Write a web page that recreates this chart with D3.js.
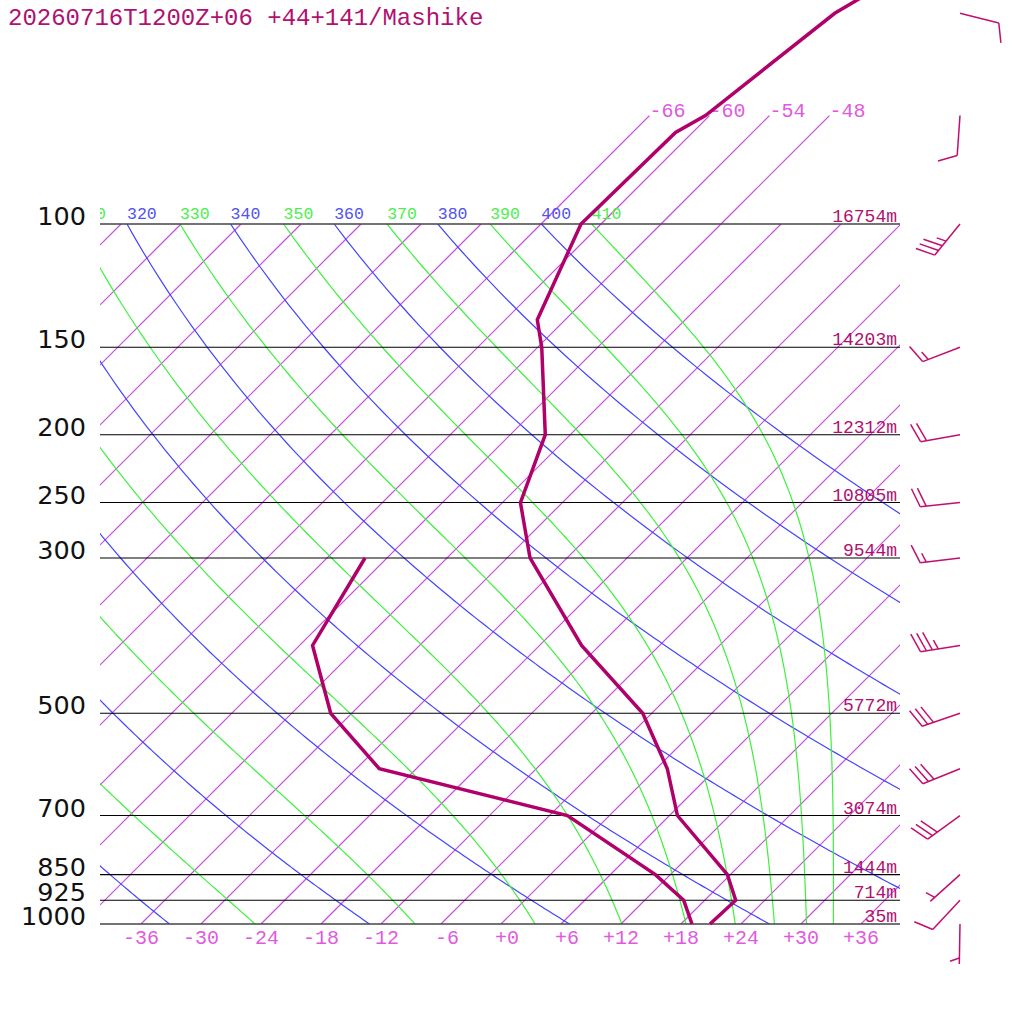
<!DOCTYPE html>
<html>
<head>
<meta charset="utf-8">
<script src="https://cdn.jsdelivr.net/npm/d3@7"></script>
<style>
	html, body { margin: 0; padding: 0; background: #fff; }
	svg { display: block; }
	text { font-family: "Liberation Mono", "DejaVu Sans Mono", monospace; }
</style>
</head>
<body>
<div id="chart"></div>
<script>
// Station header
var title = '20260716T1200Z+06 +44+141/Mashike';

// Temperature profile (hPa, degC)
var tempLevels = [1000, 925, 850, 700, 600, 500, 400, 300, 250, 200, 150, 137, 100, 74, 70, 50, 30];
var tempValues = [20.9, 21.1, 17.7, 6.8, 1.1, -6.9, -19.8, -33.7, -40.2, -44.5, -53.6, -56.8, -62.0, -61.7, -60.4, -57.7, -47.0];

// Dew point profile (hPa, degC)
var dewLevels = [1000, 925, 850, 700, 600, 500, 400, 300];
var dewValues = [19.1, 15.9, 10.5, -4.2, -27.7, -38.1, -46.7, -50.2];

// Isobars with their geopotential heights
var isobars = [1000, 925, 850, 700, 500, 300, 250, 200, 150, 100];
var heights = [35, 714, 1444, 3074, 5772, 9544, 10805, 12312, 14203, 16754];

// Background lines
var isotherms = [-108, -102, -96, -90, -84, -78, -72, -66, -60, -54, -48, -42, -36, -30, -24, -18, -12, -6, 0, 6, 12, 18, 24, 30, 36];
var bottomTicks = [-36, -30, -24, -18, -12, -6, 0, 6, 12, 18, 24, 30, 36];
var upperTicks = [-66, -60, -54, -48];
var dryAdiabats = [240, 260, 280, 300, 320, 340, 360, 380, 400];
var moistAdiabats = [250, 270, 290, 310, 330, 350, 370, 390, 410];

// Winds (hPa, direction deg, speed kt)
var windLevels = [1000, 925, 850, 700, 600, 500, 400, 300, 250, 200, 150, 100, 70, 50];
var windDir = [181, 223, 228, 234, 248, 251, 261, 263, 264, 260, 249, 219, 184, 104];
var windSpd = [5, 10, 5, 30, 30, 30, 35, 15, 20, 20, 15, 35, 10, 10];

var svg = d3.select('#chart').append('svg')
	.attr('width', 1024).attr('height', 1024);

// log-pressure vertical scale, linear temperature scale at 1000 hPa
var y = d3.scaleLog().domain([1000, 100]).range([924, 224]);
var t = d3.scaleLinear().domain([0, 10]).range([501, 601]);
var left = 100, right = 900;

/** Skewed x position of temperature T at pressure p */
function sx(T, p) {
	return t(T) + (y(1000) - y(p));
}

// Clip region of the diagram
var defs = svg.append('defs');
defs.append('clipPath').attr('id', 'box').append('rect')
	.attr('x', left).attr('y', y(100)).attr('width', right - left).attr('height', y(1000) - y(100));
defs.append('clipPath').attr('id', 'lab').append('rect')
	.attr('x', left).attr('y', y(100) - 40).attr('width', right - left).attr('height', 40);

var grid = svg.append('g').attr('clip-path', 'url(#box)');
var pGrid = d3.range(1000, 99, -5);
var line = d3.line().x(d => d[0]).y(d => d[1]);

// Isotherms
grid.selectAll('line.iso').data(isotherms).enter().append('line')
	.attr('x1', T => sx(T, 1000)).attr('y1', y(1000))
	.attr('x2', T => sx(T, 100)).attr('y2', y(100))
	.style('stroke', '#c848e0').style('stroke-width', 1.2);

// Dry adiabats
function dryT(theta, p) {
	return theta * Math.pow(p / 1000, 0.2857) - 273.15;
}
grid.selectAll('path.dry').data(dryAdiabats).enter().append('path')
	.attr('d', th => line(pGrid.map(p => [sx(dryT(th, p), p), y(p)])))
	.style('fill', 'none').style('stroke', '#4444ff').style('stroke-width', 1.2);

// Moist adiabats (constant equivalent potential temperature, Bolton)
function thetaE(Tk, p) {
	var Tc = Tk - 273.15;
	var es = 6.112 * Math.exp(17.67 * Tc / (Tc + 243.5));
	var r = 622 * es / (p - es);
	return Tk * Math.pow(1000 / p, 0.2854 * (1 - 0.00028 * r)) *
		Math.exp((3.376 / Tk - 0.00254) * r * (1 + 0.00081 * r));
}
function moistT(te, p) {
	var lo = 150, hi = 330;
	for (var i = 0; i < 50; i++) {
		var mid = (lo + hi) / 2;
		if (thetaE(mid, p) > te) hi = mid; else lo = mid;
	}
	return (lo + hi) / 2 - 273.15;
}
grid.selectAll('path.moist').data(moistAdiabats).enter().append('path')
	.attr('d', te => line(pGrid.map(p => [sx(moistT(te, p), p), y(p)])))
	.style('fill', 'none').style('stroke', '#3ef03e').style('stroke-width', 1.2);

// Isotherms continued above 100 hPa
svg.selectAll('line.up').data(upperTicks).enter().append('line')
	.attr('x1', T => sx(T, 100)).attr('y1', y(100))
	.attr('x2', T => sx(T, 70)).attr('y2', y(70))
	.style('stroke', '#c848e0').style('stroke-width', 1.2);
svg.selectAll('text.up').data(upperTicks).enter().append('text')
	.attr('x', T => sx(T, 70)).attr('y', y(70) + 1)
	.style('font-size', '20px').style('fill', '#e05ae0')
	.text(T => T);

// Isobars
svg.selectAll('line.isobar').data(isobars).enter().append('line')
	.attr('x1', left).attr('x2', right)
	.attr('y1', p => y(p)).attr('y2', p => y(p))
	.style('stroke', p => (p == 100 || p == 1000) ? '#444' : '#000')
	.style('stroke-width', p => (p == 100 || p == 1000) ? 1.6 : 1.1);
svg.selectAll('text.plab').data(isobars).enter().append('text')
	.attr('x', 86).attr('y', p => y(p) + 1)
	.attr('text-anchor', 'end')
	.style('font-family', '"DejaVu Sans", sans-serif').style('font-size', '25.5px').style('fill', '#111')
	.text(p => p);
svg.selectAll('text.hlab').data(isobars).enter().append('text')
	.attr('x', 897).attr('y', p => y(p) - 2)
	.attr('text-anchor', 'end')
	.style('font-size', '18px').style('fill', '#b0106e')
	.text((p, i) => heights[i] + 'm');

// Adiabat labels along the 100 hPa line (only those reaching into the frame)
var labs = svg.append('g').attr('clip-path', 'url(#lab)');
var visible = x => x > left - 30 && x < right;
labs.selectAll('text.dry').data(dryAdiabats.filter(th => visible(sx(dryT(th, 100), 100))))
	.enter().append('text')
	.attr('x', th => sx(dryT(th, 100), 100)).attr('y', y(100) - 5)
	.style('font-size', '16.5px').style('fill', '#5252f0')
	.text(th => th);
labs.selectAll('text.moist').data(moistAdiabats.filter(te => visible(sx(moistT(te, 100), 100))))
	.enter().append('text')
	.attr('x', te => sx(moistT(te, 100), 100)).attr('y', y(100) - 5)
	.style('font-size', '16.5px').style('fill', '#4cee4c')
	.text(te => te);

// Bottom temperature axis
svg.selectAll('text.tlab').data(bottomTicks).enter().append('text')
	.attr('x', T => t(T) + 18).attr('y', 944)
	.attr('text-anchor', 'end')
	.style('font-size', '20px').style('fill', '#e05ae0')
	.text(T => (T >= 0 ? '+' : '') + T);

// Profiles
var profile = d3.line().x(d => sx(d[1], d[0])).y(d => y(d[0]));
svg.append('path')
	.attr('d', profile(dewLevels.map((p, i) => [p, dewValues[i]])))
	.style('fill', 'none').style('stroke', '#b0006a').style('stroke-width', 3.5);
svg.append('path')
	.attr('d', profile(tempLevels.map((p, i) => [p, tempValues[i]])))
	.style('fill', 'none').style('stroke', '#b0006a').style('stroke-width', 3.5);

// Wind barbs
var barbs = svg.append('g').style('stroke', '#c0106e').style('stroke-width', 1.5)
	.style('fill', 'none');
windLevels.forEach(function(p, i) {
	var d = windDir[i] * Math.PI / 180;
	var ux = Math.sin(d), uy = -Math.cos(d);
	var ox = 960, oy = y(p), len = 40;
	barbs.append('line')
		.attr('x1', ox).attr('y1', oy)
		.attr('x2', ox + ux * len).attr('y2', oy + uy * len);
	var a = Math.atan2(uy, ux) + 70 * Math.PI / 180;
	var bx = Math.cos(a), by = Math.sin(a);
	var full = Math.floor(windSpd[i] / 10);
	var half = windSpd[i] % 10 >= 5;
	var pos = len;
	for (var k = 0; k < full; k++) {
		barbs.append('line')
			.attr('x1', ox + ux * pos).attr('y1', oy + uy * pos)
			.attr('x2', ox + ux * pos + bx * 20).attr('y2', oy + uy * pos + by * 20);
		pos -= 6;
	}
	if (half) {
		if (full == 0) pos -= 6;
		barbs.append('line')
			.attr('x1', ox + ux * pos).attr('y1', oy + uy * pos)
			.attr('x2', ox + ux * pos + bx * 10).attr('y2', oy + uy * pos + by * 10);
	}
});

// Title
svg.append('text')
	.attr('x', 8).attr('y', 25)
	.style('font-size', '24px').style('fill', '#b01070')
	.text(title);
</script>
</body>
</html>
